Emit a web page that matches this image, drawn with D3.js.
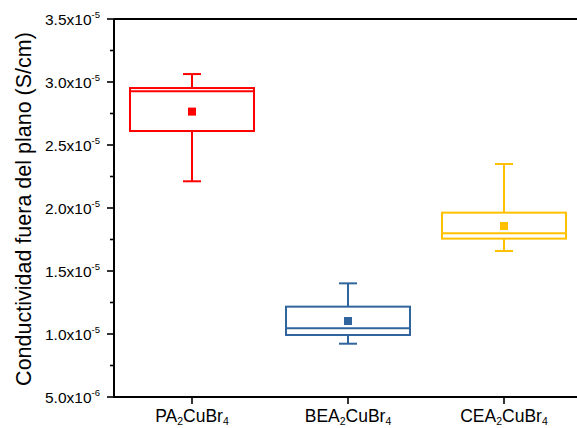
<!DOCTYPE html>
<html>
<head>
<meta charset="utf-8">
<script src="https://cdn.jsdelivr.net/npm/d3@7"></script>
<style>
  html, body { margin: 0; padding: 0; background: #fff; }
  svg { display: block; font-family: Arial, "Liberation Sans", sans-serif; }
</style>
</head>
<body>
<svg id="chart" width="577" height="428"></svg>
<script>
// Samples and their box statistics (S/cm)
const categories = ["PA", "BEA", "CEA"];
const whiskerLow  = [2.212e-5, 0.923e-5, 1.659e-5];
const q1          = [2.611e-5, 0.992e-5, 1.757e-5];
const median      = [2.926e-5, 1.045e-5, 1.800e-5];
const q3          = [2.952e-5, 1.217e-5, 1.963e-5];
const whiskerHigh = [3.063e-5, 1.402e-5, 2.349e-5];
const mean        = [2.765e-5, 1.103e-5, 1.857e-5];
const colors      = ["#FF0000", "#30649C", "#FFC000"];
const yTicks      = [5e-6, 1e-5, 1.5e-5, 2e-5, 2.5e-5, 3e-5, 3.5e-5];
const yTickMant   = ["5.0", "1.0", "1.5", "2.0", "2.5", "3.0", "3.5"];
const yTickExp    = ["-6", "-5", "-5", "-5", "-5", "-5", "-5"];

const svg = d3.select("#chart");
const plotLeft = 114, plotRight = 582, plotTop = 19, plotBottom = 397;

const x = d3.scaleLinear().domain([0.5, 3.5]).range([plotLeft, plotRight]);
const y = d3.scaleLinear().domain([5e-6, 3.5e-5]).range([plotBottom, plotTop]);

// frame line along the top (runs past the window on the right)
svg.append("line").attr("x1", plotLeft).attr("x2", plotRight).attr("y1", plotTop).attr("y2", plotTop)
  .attr("stroke", "#000").attr("stroke-width", 2);

// y axis with major and minor ticks
const yAxis = svg.append("g").attr("transform", `translate(${plotLeft},0)`);
yAxis.append("line").attr("x1", 0).attr("x2", 0).attr("y1", plotTop).attr("y2", plotBottom + 1)
  .attr("stroke", "#000").attr("stroke-width", 2);
yTicks.forEach((v, i) => {
  yAxis.append("line").attr("x1", -7).attr("x2", 0).attr("y1", y(v)).attr("y2", y(v))
    .attr("stroke", "#000").attr("stroke-width", 1.6);
  if (i < yTicks.length - 1) {
    const mv = (v + yTicks[i + 1]) / 2;
    yAxis.append("line").attr("x1", -4).attr("x2", 0).attr("y1", y(mv)).attr("y2", y(mv))
      .attr("stroke", "#000").attr("stroke-width", 1.6);
  }
  const t = yAxis.append("text").attr("x", -14).attr("y", y(v) + 5.5)
    .attr("text-anchor", "end").attr("font-size", 15.5).attr("fill", "#000");
  t.append("tspan").text(yTickMant[i] + "x10");
  t.append("tspan").attr("dy", -7).attr("font-size", 9.5).text(yTickExp[i]);
});

// x axis
const xAxis = svg.append("g");
xAxis.append("line").attr("x1", plotLeft - 1).attr("x2", plotRight).attr("y1", plotBottom).attr("y2", plotBottom)
  .attr("stroke", "#000").attr("stroke-width", 2);
categories.forEach((c, i) => {
  const cx = x(i + 1);
  xAxis.append("line").attr("x1", cx).attr("x2", cx).attr("y1", plotBottom).attr("y2", plotBottom + 7)
    .attr("stroke", "#000").attr("stroke-width", 1.6);
  const t = xAxis.append("text").attr("x", cx).attr("y", 421.5)
    .attr("text-anchor", "middle").attr("font-size", 17.5).attr("fill", "#000");
  t.append("tspan").text(c);
  t.append("tspan").attr("dy", 3.5).attr("font-size", 10.5).text("2");
  t.append("tspan").attr("dy", -3.5).text("CuBr");
  t.append("tspan").attr("dy", 3.5).attr("font-size", 10.5).text("4");
});

// y axis title
svg.append("text")
  .attr("transform", `translate(31,${(plotTop + plotBottom) / 2 + 1}) rotate(-90)`)
  .attr("text-anchor", "middle").attr("font-size", 21.5).attr("fill", "#000")
  .text("Conductividad fuera del plano (S/cm)");

// boxes, whiskers, medians and means
const boxW = 124, capW = 18;
categories.forEach((c, i) => {
  const g = svg.append("g").attr("stroke", colors[i]).attr("stroke-width", 2).attr("fill", "none");
  const cx = x(i + 1);
  g.append("line").attr("x1", cx).attr("x2", cx).attr("y1", y(q3[i])).attr("y2", y(whiskerHigh[i]));
  g.append("line").attr("x1", cx).attr("x2", cx).attr("y1", y(q1[i])).attr("y2", y(whiskerLow[i]));
  g.append("line").attr("x1", cx - capW / 2).attr("x2", cx + capW / 2)
    .attr("y1", y(whiskerHigh[i])).attr("y2", y(whiskerHigh[i]));
  g.append("line").attr("x1", cx - capW / 2).attr("x2", cx + capW / 2)
    .attr("y1", y(whiskerLow[i])).attr("y2", y(whiskerLow[i]));
  g.append("rect").attr("x", cx - boxW / 2).attr("y", y(q3[i]))
    .attr("width", boxW).attr("height", y(q1[i]) - y(q3[i]));
  g.append("line").attr("x1", cx - boxW / 2).attr("x2", cx + boxW / 2)
    .attr("y1", y(median[i])).attr("y2", y(median[i]));
  svg.append("rect").attr("x", cx - 4).attr("y", y(mean[i]) - 4)
    .attr("width", 8).attr("height", 8).attr("fill", colors[i]);
});
</script>
</body>
</html>
